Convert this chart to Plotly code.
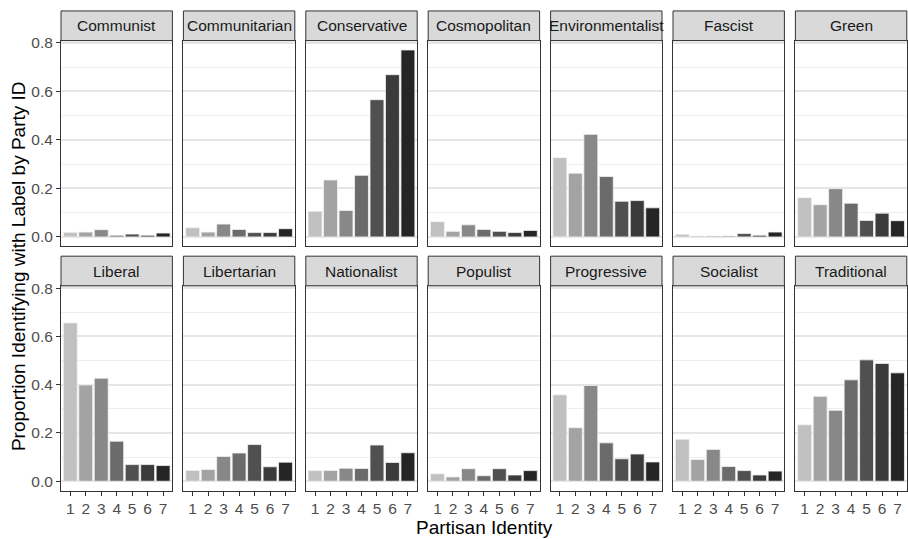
import plotly.graph_objects as go

party_id = [1, 2, 3, 4, 5, 6, 7]
tick_labels = ["1", "2", "3", "4", "5", "6", "7"]
labels = ["Communist", "Communitarian", "Conservative", "Cosmopolitan", "Environmentalist",
          "Fascist", "Green", "Liberal", "Libertarian", "Nationalist", "Populist",
          "Progressive", "Socialist", "Traditional"]

communist = [0.019, 0.020, 0.030, 0.007, 0.012, 0.007, 0.016]
communitarian = [0.038, 0.020, 0.053, 0.031, 0.018, 0.018, 0.034]
conservative = [0.106, 0.235, 0.109, 0.254, 0.566, 0.669, 0.771]
cosmopolitan = [0.063, 0.023, 0.050, 0.031, 0.023, 0.018, 0.027]
environmentalist = [0.327, 0.263, 0.423, 0.249, 0.147, 0.150, 0.120]
fascist = [0.011, 0.004, 0.004, 0.004, 0.014, 0.007, 0.020]
green = [0.162, 0.133, 0.199, 0.139, 0.068, 0.098, 0.067]
liberal = [0.656, 0.399, 0.427, 0.166, 0.069, 0.069, 0.065]
libertarian = [0.045, 0.049, 0.103, 0.117, 0.152, 0.060, 0.079]
nationalist = [0.044, 0.045, 0.054, 0.053, 0.150, 0.078, 0.118]
populist = [0.031, 0.018, 0.052, 0.023, 0.052, 0.026, 0.044]
progressive = [0.358, 0.222, 0.397, 0.159, 0.093, 0.113, 0.080]
socialist = [0.174, 0.090, 0.132, 0.061, 0.044, 0.026, 0.042]
traditional = [0.234, 0.352, 0.294, 0.420, 0.503, 0.488, 0.449]

series = [communist, communitarian, conservative, cosmopolitan, environmentalist,
          fascist, green, liberal, libertarian, nationalist, populist,
          progressive, socialist, traditional]

bar_colors = ["#C0C0C0", "#A3A3A3", "#888888", "#6B6B6B", "#505050", "#3B3B3B", "#252525"]

W, H = 908, 539
FONT = "Liberation Sans, Arial, Helvetica, sans-serif"

ymax = max(max(s) for s in series)
yrange = [-0.05 * ymax, 1.05 * ymax]

col_left0 = 61.0
panel_w = 111.4
gap = 11.0
rows = [  # (strip_top, strip_bottom, panel_bottom)
    (5, 35, 243),
    (253, 283, 490),
]

fig = go.Figure()
shapes = []
annotations = []
layout = {}

for i, (lab, vals) in enumerate(zip(labels, series)):
    r, c = divmod(i, 7)
    st, sb, pb = rows[r]
    x0 = col_left0 + c * (panel_w + gap)
    x1 = x0 + panel_w
    n = i + 1
    xa = "x" if n == 1 else f"x{n}"
    ya = "y" if n == 1 else f"y{n}"
    fig.add_trace(go.Bar(
        x=party_id, y=vals, xaxis=xa, yaxis=ya,
        marker=dict(color=bar_colors, line=dict(color="#F2F2F2", width=0.8)),
        showlegend=False, hoverinfo="x+y",
    ))
    xkey = "xaxis" if n == 1 else f"xaxis{n}"
    ykey = "yaxis" if n == 1 else f"yaxis{n}"
    bottom = (r == 1)
    left = (c == 0)
    layout[xkey] = dict(
        domain=[x0 / W, x1 / W], anchor=ya, range=[0.4, 7.6],
        tickmode="array", tickvals=party_id, ticktext=tick_labels,
        showticklabels=bottom, ticks="outside" if bottom else "",
        ticklen=4, tickwidth=1.2, tickcolor="#333333",
        tickfont=dict(family=FONT, size=15.5, color="#4D4D4D"),
        showgrid=False, zeroline=False,
        showline=True, linecolor="#333333", linewidth=1, mirror=True,
        fixedrange=True,
    )
    layout[ykey] = dict(
        domain=[1 - pb / H, 1 - sb / H], anchor=xa, range=yrange,
        tickmode="linear", tick0=0, dtick=0.2, tickformat=".1f",
        showticklabels=left, ticks="outside" if left else "",
        ticklen=4, tickwidth=1.2, tickcolor="#333333",
        tickfont=dict(family=FONT, size=15.5, color="#4D4D4D"),
        showgrid=True, gridcolor="#E6E6E6", gridwidth=1.5,
        minor=dict(tick0=0.1, dtick=0.2, showgrid=True, gridcolor="#EEEEEE", gridwidth=1),
        zeroline=False,
        showline=True, linecolor="#333333", linewidth=1, mirror=True,
        fixedrange=True,
    )
    shapes.append(dict(
        type="rect", xref="paper", yref="paper",
        x0=x0 / W, x1=x1 / W, y0=1 - sb / H, y1=1 - st / H,
        fillcolor="#D9D9D9", line=dict(color="#333333", width=1), layer="above",
    ))
    annotations.append(dict(
        text=lab, xref="paper", yref="paper",
        x=(x0 + x1) / 2 / W, y=1 - (st + sb) / 2 / H,
        xanchor="center", yanchor="middle", showarrow=False,
        font=dict(family=FONT, size=15.5, color="#1A1A1A"),
    ))

annotations.append(dict(
    text="Proportion Identifying with Label by Party ID", xref="paper", yref="paper",
    x=18 / W, y=1 - 263 / H, textangle=-90, xanchor="center", yanchor="middle",
    showarrow=False, font=dict(family=FONT, size=19, color="#000000"),
))
annotations.append(dict(
    text="Partisan Identity", xref="paper", yref="paper",
    x=484 / W, y=1 - 527 / H, xanchor="center", yanchor="middle",
    showarrow=False, font=dict(family=FONT, size=19, color="#000000"),
))

fig.update_layout(
    width=W, height=H, margin=dict(l=0, r=0, t=0, b=0),
    paper_bgcolor="white", plot_bgcolor="white",
    bargap=0.1, shapes=shapes, annotations=annotations,
    font=dict(family=FONT),
    **layout,
)

fig.write_html("out.html")
